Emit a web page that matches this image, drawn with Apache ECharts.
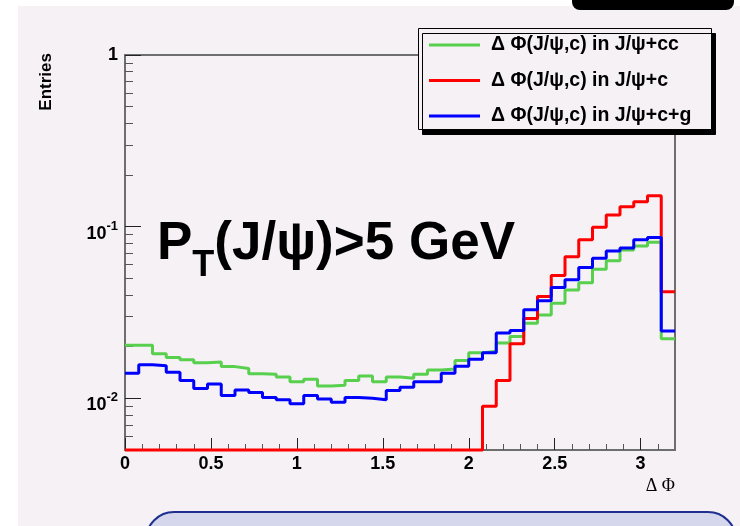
<!DOCTYPE html>
<html><head><meta charset="utf-8">
<script src="https://cdn.jsdelivr.net/npm/echarts@6/dist/echarts.min.js"></script>
<style>html,body{margin:0;padding:0;background:#fff}#c{width:740px;height:526px}</style>
</head><body><div id="c"></div>
<script>
// ---- data ----
const binWidth = 0.08;           // 40 bins on [0, 3.2]
const xMin = 0, xMax = 3.2;
const yMin = 0.005, yMax = 1;
const seriesNames = ['\u0394 \u03a6(J/\u03c8,c) in J/\u03c8+cc', '\u0394 \u03a6(J/\u03c8,c) in J/\u03c8+c', '\u0394 \u03a6(J/\u03c8,c) in J/\u03c8+c+g'];
const greenCC = [0.0204, 0.0204, 0.0182, 0.0173, 0.0168, 0.0161, 0.0163, 0.0153, 0.0149, 0.0139,
                 0.0138, 0.0133, 0.0125, 0.0129, 0.0118, 0.0119, 0.0127, 0.0135, 0.0125, 0.0133,
                 0.0131, 0.0138, 0.0146, 0.0148, 0.0166, 0.0184, 0.0188, 0.0210, 0.0229, 0.0274,
                 0.0306, 0.0358, 0.0428, 0.0472, 0.0565, 0.0632, 0.0732, 0.0772, 0.0812, 0.0222];
const redC    = [0, 0, 0, 0, 0, 0, 0, 0, 0, 0,
                 0, 0, 0, 0, 0, 0, 0, 0, 0, 0,
                 0, 0, 0, 0, 0, 0, 0.0090, 0.0127, 0.0208, 0.0292,
                 0.0392, 0.0519, 0.0669, 0.0838, 0.0993, 0.1171, 0.1308, 0.1399, 0.1516, 0.0418];
const blueCG  = [0.0140, 0.0157, 0.0155, 0.0142, 0.0127, 0.0114, 0.0121, 0.0104, 0.0112, 0.0108,
                 0.0101, 0.0098, 0.0093, 0.0104, 0.0099, 0.0095, 0.0101, 0.0100, 0.0098, 0.0111,
                 0.0116, 0.0125, 0.0125, 0.0140, 0.0154, 0.0169, 0.0184, 0.0240, 0.0248, 0.0328,
                 0.0370, 0.0442, 0.0490, 0.0578, 0.0655, 0.0722, 0.0752, 0.0838, 0.0864, 0.0247];
const xMajorTicks = [0, 0.5, 1, 1.5, 2, 2.5, 3];
const xTickLabels = ['0', '0.5', '1', '1.5', '2', '2.5', '3'];
const xMinorTicks = [0.1,0.2,0.3,0.4,0.6,0.7,0.8,0.9,1.1,1.2,1.3,1.4,1.6,1.7,1.8,1.9,2.1,2.2,2.3,2.4,2.6,2.7,2.8,2.9,3.1];
const yMajorTicks = [0.01, 0.1, 1];
const yTickExp = ['-2', '-1', ''];
const yMinorTicks = [0.006,0.007,0.008,0.009,0.02,0.03,0.04,0.05,0.06,0.07,0.08,0.09,0.2,0.3,0.4,0.5,0.6,0.7,0.8,0.9];
const colors = ['#58d04e', '#ff0000', '#0000ff'];

// ---- build step data (bin edges) ----
function stepData(vals) {
  const d = vals.map((v, i) => [xMin + i * binWidth, v > 0 ? v : yMin]);
  const last = vals[vals.length - 1];
  d.push([xMax, last > 0 ? last : yMin]);
  return d;
}
const FONT = 'Liberation Sans, Arial, sans-serif';
const chart = echarts.init(document.getElementById('c'), null, {renderer: 'canvas'});
const option = {
  animation: false,
  backgroundColor: '#ffffff',
  grid: {left: 125, right: 65, top: 55, bottom: 76, show: true, borderColor: '#6e6e6e', borderWidth: 2, backgroundColor: 'transparent'},
  xAxis: [{
    type: 'value', min: xMin, max: xMax, position: 'bottom',
    axisLine: {show: false}, splitLine: {show: false},
    axisTick: {show: true, inside: true, length: 12, customValues: xMajorTicks, lineStyle: {color: '#222', width: 1}},
    axisLabel: {customValues: xMajorTicks, margin: 5, color: '#000', fontFamily: FONT, fontWeight: 'bold', fontSize: 18,
      formatter: v => { const i = xMajorTicks.findIndex(t => Math.abs(t - v) < 1e-9); return i >= 0 ? xTickLabels[i] : ''; }}
  }, {
    type: 'value', min: xMin, max: xMax, position: 'bottom', gridIndex: 0,
    axisLine: {show: false}, splitLine: {show: false}, axisLabel: {show: false},
    axisTick: {show: true, inside: true, length: 6, customValues: xMinorTicks, lineStyle: {color: '#555', width: 1}}
  }],
  yAxis: [{
    type: 'log', logBase: 10, min: yMin, max: yMax, position: 'left',
    axisLine: {show: false}, splitLine: {show: false},
    axisTick: {show: true, inside: true, length: 16, customValues: yMajorTicks, lineStyle: {color: '#222', width: 1}},
    axisLabel: {customValues: yMajorTicks, margin: 7, color: '#000', fontFamily: FONT, fontWeight: 'bold',
      formatter: v => {
        const i = yMajorTicks.findIndex(t => Math.abs(Math.log10(t) - Math.log10(v)) < 1e-6);
        if (i < 0) return '';
        if (yTickExp[i] === '') return '{one|1}';
        return '{n|10}{s|' + yTickExp[i] + '}';
      },
      rich: {
        one: {fontSize: 18, fontWeight: 'bold', fontFamily: FONT, lineHeight: 14, color: '#000'},
        n: {fontSize: 18, fontWeight: 'bold', fontFamily: FONT, lineHeight: 14, padding: [5, 0, 6, 0], verticalAlign: 'top', color: '#000'},
        s: {fontSize: 13, fontWeight: 'bold', fontFamily: FONT, lineHeight: 12, padding: [0, 0, 5.5, 0], verticalAlign: 'top', color: '#000'}
      }}
  }, {
    type: 'log', logBase: 10, min: yMin, max: yMax, position: 'left', gridIndex: 0,
    axisLine: {show: false}, splitLine: {show: false}, axisLabel: {show: false},
    axisTick: {show: true, inside: true, length: 8, customValues: yMinorTicks, lineStyle: {color: '#555', width: 1}}
  }],
  legend: {
    orient: 'vertical', left: 429, top: 35, padding: 0, itemWidth: 51, itemHeight: 3, itemGap: 15.5,
    icon: 'rect', selectedMode: false, data: seriesNames, z: 20,
    textStyle: {fontFamily: FONT, fontWeight: 'bold', fontSize: 19.5, color: '#000', lineHeight: 20, padding: [0, 0, 0, 6]}
  },
  graphic: {elements: [
    {type: 'rect', z: -10, silent: true, shape: {x: 18, y: 6, width: 722, height: 520}, style: {fill: '#f5f1f5'}},
    {type: 'rect', z: -5, silent: true, shape: {x: 572, y: -12, width: 162, height: 22, r: 8}, style: {fill: '#000'}},
    {type: 'rect', z: -5, silent: true, shape: {x: 146, y: 512, width: 590, height: 60, r: 28}, style: {fill: '#d5d7ec', stroke: '#1e2f8f', lineWidth: 2}},
    {type: 'rect', z: 15, silent: true, shape: {x: 418.5, y: 28.5, width: 293, height: 101},
      style: {fill: '#f5f1f5', stroke: '#000', lineWidth: 1, shadowColor: '#000', shadowOffsetX: 4, shadowOffsetY: 5, shadowBlur: 0}},
    {type: 'text', z: 15, silent: true, x: 46, y: 53, rotation: Math.PI / 2,
      style: {text: 'Entries', align: 'right', verticalAlign: 'middle', fill: '#000', font: 'bold 17px ' + FONT}},
    {type: 'text', z: 15, silent: true, x: 675, y: 486,
      style: {text: '\u0394 \u03a6', align: 'right', verticalAlign: 'middle', fill: '#000', font: '18px Liberation Serif, serif'}},
    {type: 'text', z: 15, silent: true, x: 157, y: 218,
      style: {text: '{p|P}{t|T}{p|(J/\u03c8)>5 GeV}', align: 'left', verticalAlign: 'top', fill: '#000',
        rich: {
          p: {fontSize: 53, fontWeight: 'bold', fontFamily: FONT, lineHeight: 60, verticalAlign: 'top', fill: '#000'},
          t: {fontSize: 36, fontWeight: 'bold', fontFamily: FONT, lineHeight: 96, fill: '#000'}
        }}}
  ]},
  series: [
    {name: seriesNames[0], type: 'line', step: 'end', symbol: 'none', clip: false, data: stepData(greenCC), color: colors[0], lineStyle: {width: 3, color: colors[0]}, z: 2},
    {name: seriesNames[1], type: 'line', step: 'end', symbol: 'none', clip: false, data: stepData(redC), color: colors[1], lineStyle: {width: 3, color: colors[1]}, z: 3},
    {name: seriesNames[2], type: 'line', step: 'end', symbol: 'none', clip: false, data: stepData(blueCG), color: colors[2], lineStyle: {width: 3, color: colors[2]}, z: 4}
  ]
};
chart.setOption(option);
</script></body></html>
